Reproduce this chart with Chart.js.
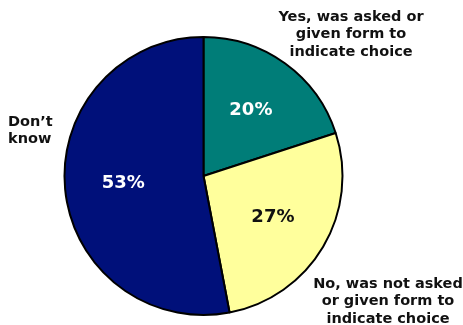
<!DOCTYPE html>
<html>
<head>
<meta charset="utf-8">
<script src="https://cdn.jsdelivr.net/npm/chart.js@4/dist/chart.umd.min.js"></script>
<style>
    html, body { margin: 0; padding: 0; background: #fff; }
    #wrap { width: 463px; height: 325px; }
</style>
</head>
<body>
<div id="wrap"><canvas id="pieChart" width="463" height="325"></canvas></div>
<script>
// slice data, clockwise from 12 o'clock
const categories = [
    ['Yes, was asked or', 'given form to', 'indicate choice'],
    ['No, was not asked', 'or given form to', 'indicate choice'],
    ['Don\u2019t', 'know']
];
const shares = [20, 27, 53];
const sliceColors = ['#007d78', '#ffff9c', '#00107a'];
const valueColors = ['#ffffff', '#111111', '#ffffff'];

// where the category text sits (canvas px) and how it aligns
const labelSpots = [
    { x: 351, y: 17, align: 'center' },
    { x: 388, y: 284, align: 'center' },
    { x: 8, y: 122, align: 'left' }
];

const FONT = 'DejaVu Sans, Arial, sans-serif';

const pieLabels = {
    id: 'pieLabels',
    afterDatasetsDraw(chart) {
        const ctx = chart.ctx;
        const meta = chart.getDatasetMeta(0);
        ctx.save();
        ctx.textBaseline = 'middle';

        meta.data.forEach((arc, i) => {
            const p = arc.getProps(['x', 'y', 'startAngle', 'endAngle', 'outerRadius']);
            const mid = (p.startAngle + p.endAngle) / 2;
            const r = p.outerRadius * 0.58;
            ctx.font = 'bold 18px ' + FONT;
            ctx.fillStyle = valueColors[i];
            ctx.textAlign = 'center';
            ctx.fillText(shares[i] + '%', p.x + Math.cos(mid) * r, p.y + Math.sin(mid) * r);
        });

        ctx.font = 'bold 14.5px ' + FONT;
        ctx.fillStyle = '#111111';
        categories.forEach((lines, i) => {
            const spot = labelSpots[i];
            ctx.textAlign = spot.align;
            lines.forEach((line, j) => {
                ctx.fillText(line, spot.x, spot.y + j * 17.5);
            });
        });
        ctx.restore();
    }
};

new Chart(document.getElementById('pieChart'), {
    type: 'pie',
    data: {
        labels: categories.map(c => c.join(' ')),
        datasets: [{
            data: shares,
            backgroundColor: sliceColors,
            borderColor: '#000000',
            borderWidth: 2
        }]
    },
    options: {
        responsive: false,
        animation: false,
        layout: { padding: { left: 63, right: 119, top: 36, bottom: 9 } },
        plugins: {
            legend: { display: false },
            tooltip: { enabled: false }
        }
    },
    plugins: [pieLabels]
});
</script>
</body>
</html>
